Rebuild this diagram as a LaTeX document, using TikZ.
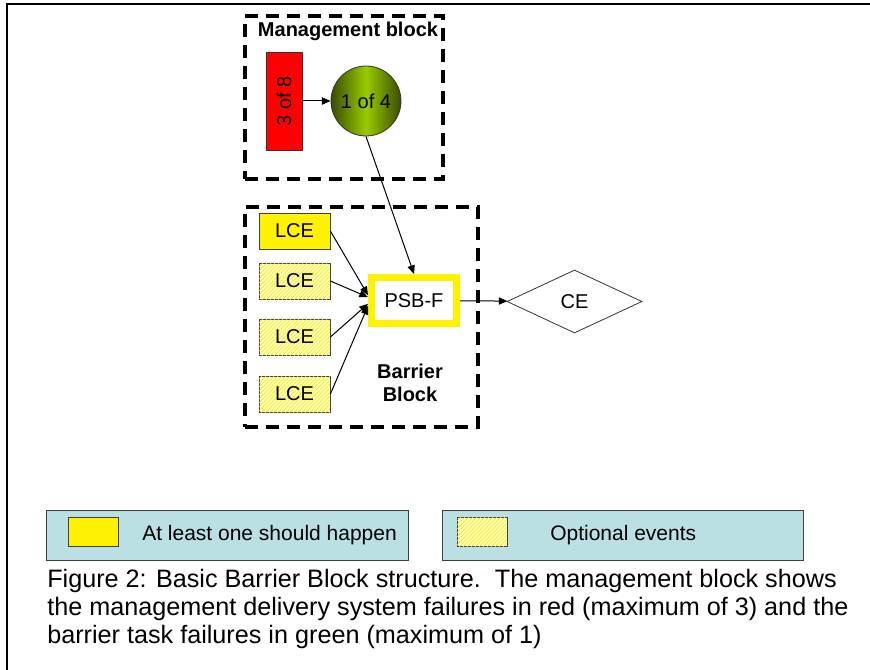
\documentclass[tikz,border=0pt]{standalone}
\usepackage{fontspec}
\setmainfont{Liberation Sans}
\usetikzlibrary{arrows.meta,shapes.geometric,patterns}
\definecolor{legendbg}{RGB}{187,224,227}
\definecolor{olivedark}{RGB}{58,76,0}
\definecolor{leafgreen}{RGB}{153,204,0}
\definecolor{paleyellow}{RGB}{255,255,160}
\definecolor{hatchyellow}{RGB}{235,225,90}

\begin{document}
\begin{tikzpicture}[x=0.75pt,y=-0.75pt,
  font=\fontsize{15}{18}\selectfont,
  conn/.style={line width=0.75pt,-{Triangle[length=6.5pt,width=5.5pt]}},
  groupbox/.style={draw,line width=3pt,dash pattern=on 9.75pt off 6pt,inner sep=0pt},
  eventbox/.style={draw=black!75,line width=0.6pt,minimum width=53.25pt,minimum height=27pt,inner sep=0pt},
  mustbox/.style={eventbox,fill=yellow},
  optbox/.style={eventbox,fill=paleyellow,postaction={pattern=north east lines,pattern color=hatchyellow}},
  legendbox/.style={draw=black!75,line width=0.75pt,fill=legendbg,minimum width=271pt,minimum height=37.5pt,inner sep=0pt},
  swatch/.style={draw=black!75,line width=0.6pt,minimum width=37.5pt,minimum height=21.75pt,inner sep=0pt},
  captionline/.style={anchor=base west,inner sep=0pt,font=\fontsize{18.9}{21}\selectfont}]

\useasboundingbox (0,0) rectangle (870,670);

% page frame (top and left rules)
\draw[line width=1.8pt] (7,670) -- (7,4) -- (870,4);

% management block
\node[groupbox,minimum width=148.5pt,minimum height=122.25pt] (mgmt) at (344,97.5) {};
\node[font=\bfseries\fontsize{15}{18}\selectfont] (mgmtlabel) at (348,31) {Management block};
\node[draw=black!80,line width=0.6pt,fill=red,minimum width=27pt,minimum height=73.5pt,inner sep=0pt] (m1) at (284,101) {\rotatebox{90}{3 of 8}};
\node[circle,draw=black!80,line width=0.6pt,minimum size=52.5pt,inner sep=0pt,
      left color=olivedark,right color=olivedark,middle color=leafgreen] (m2) at (366,101) {1 of 4};

% barrier block
\node[groupbox,minimum width=174.75pt,minimum height=165pt] (barrier) at (361.5,317) {};
\node[font=\bfseries\fontsize{15}{17}\selectfont,align=center] (barrierlabel) at (410,383) {Barrier\\Block};
\node[mustbox] (l1) at (294.5,231) {LCE};
\node[optbox] (l2) at (294.5,281) {LCE};
\node[optbox] (l3) at (294.5,337) {LCE};
\node[optbox] (l4) at (294.5,394) {LCE};
\node[draw=yellow,line width=5.25pt,fill=white,minimum width=63.75pt,minimum height=34.5pt,inner sep=0pt] (psb) at (414,300.5) {PSB-F};

% consequence
\node[diamond,draw=black!80,line width=0.6pt,minimum width=101.25pt,minimum height=47.25pt,inner sep=0pt] (ce) at (574.5,301.5) {CE};

% connectors
\draw[conn] (m1) -- (m2);
\draw[conn] (m2.south) -- (psb.north);
\draw[conn] (l1.east) -- ([yshift=4pt]psb.west);
\draw[conn] (l2.east) -- ([yshift=2.5pt]psb.west);
\draw[conn] (l3.east) -- ([yshift=-2.5pt]psb.west);
\draw[conn] (l4.east) -- ([yshift=-4pt]psb.west);
\draw[conn] (psb) -- (ce);

% legend
\node[legendbox] (lg1) at (227.5,535) {};
\node[swatch,fill=yellow] (sw1) at (93,531.5) {};
\node[anchor=west,inner sep=0pt,font=\fontsize{15.75}{18}\selectfont] (lt1) at (142,535) {At least one should happen};
\node[legendbox] (lg2) at (623,535) {};
\node[swatch,fill=paleyellow,postaction={pattern=north east lines,pattern color=hatchyellow}] (sw2) at (482,531.5) {};
\node[anchor=west,inner sep=0pt,font=\fontsize{15.75}{18}\selectfont] (lt2) at (550,535) {Optional events};

% caption
\node[captionline] (cap1) at (47,587) {Figure 2: Basic Barrier Block structure.\ \ The management block shows};
\node[captionline] (cap2) at (47,615) {the management delivery system failures in red (maximum of 3) and the};
\node[captionline] (cap3) at (47,643) {barrier task failures in green (maximum of 1)};
\end{tikzpicture}
\end{document}
